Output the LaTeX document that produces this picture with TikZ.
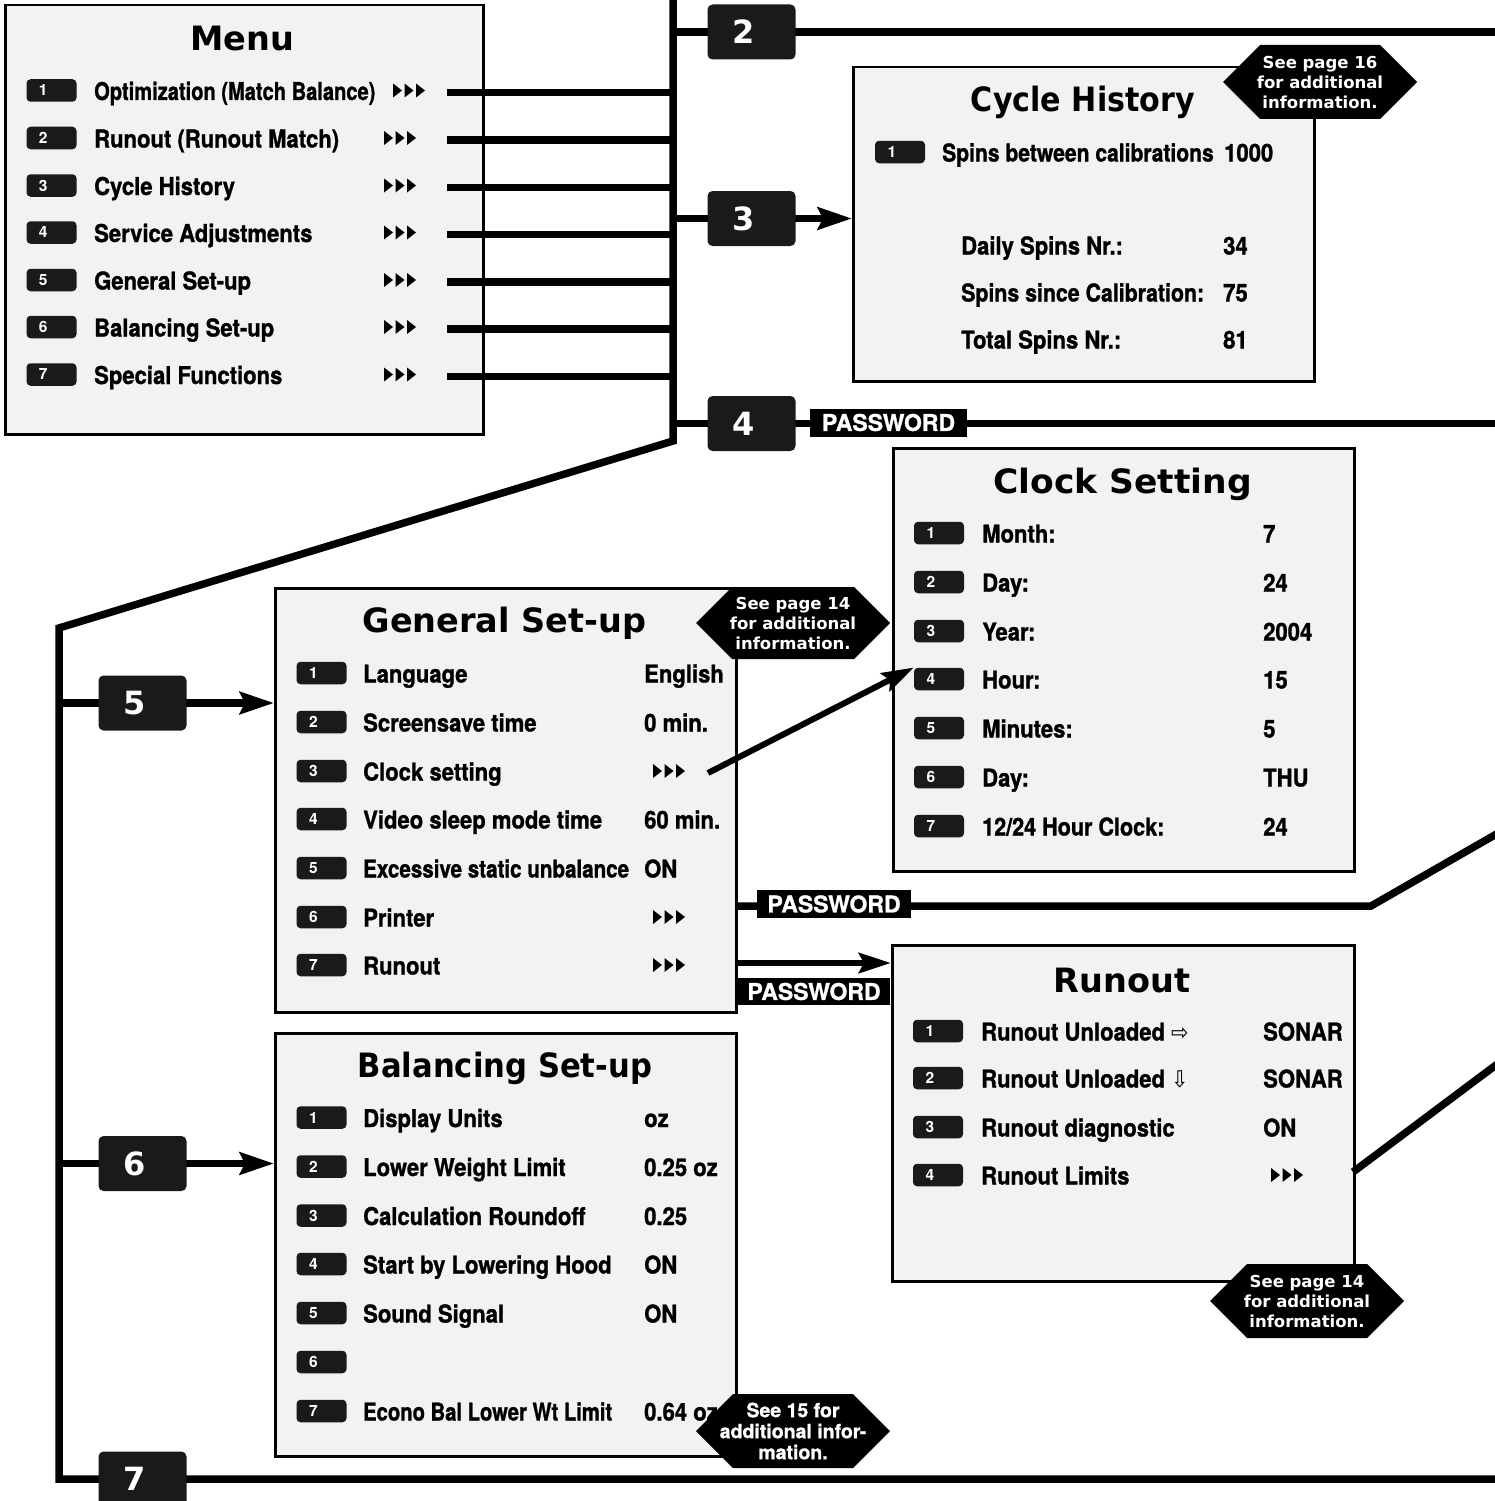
\documentclass[tikz,border=0pt]{standalone}
\usepackage{fontspec}
\usepackage{graphicx}
\usetikzlibrary{arrows.meta}
\setmainfont{TeX Gyre Heros}
\newfontfamily\dv{DejaVu Sans}
\newfontfamily\hv{TeX Gyre Heros}
\newfontfamily\hvB[BoldFeatures={FakeBold=1.2}]{TeX Gyre Heros}
\definecolor{boxgray}{HTML}{F2F2F2}
\definecolor{bk}{HTML}{1A1A1A}
\newcommand\C[2][0.9]{\scalebox{#1}[1]{#2}}
\tikzset{
 panel/.style={draw=black, line width=2.5, fill=boxgray, anchor=north west, inner sep=0},
 ttl/.style={font=\dv\bfseries\fontsize{33.5}{36}\selectfont, anchor=base, inner sep=0},
 itm/.style={font=\hvB\bfseries\fontsize{24.5}{26}\selectfont, anchor=base west, inner sep=0},
 sb/.style={fill=bk, rounded corners=4, minimum width=50, minimum height=22.5, inner sep=0, text=white, font=\hv\bfseries\fontsize{15.5}{15.5}\selectfont},
 bb/.style={fill=bk, rounded corners=5, minimum width=88, minimum height=55, inner sep=0, text=white, font=\dv\bfseries\fontsize{32}{32}\selectfont},
 conn/.style={line width=7.5},
 arr/.style={line width=7.5, -{Stealth[length=34, width=22, inset=5]}},
 pw/.style={fill=black, text=white, font=\hvB\bfseries\fontsize{23}{23}\selectfont, inner sep=0, minimum height=28},
 hext/.style={text=white, font=\dv\bfseries\fontsize{16.5}{20}\selectfont, align=center, inner sep=0},
 hextb/.style={text=white, font=\hvB\bfseries\fontsize{19.5}{21}\selectfont, align=center, inner sep=0},
 tri/.pic={\foreach \k in {0,1,2}{\fill ({\k*11.5},-7) -- ++(9,7) -- ++(-9,7) -- cycle;}},
}
\newcommand\itemrow[6]{%
 \node[sb] (#1b) at (#2,#4) {\makebox[50pt][l]{\hspace{12.5pt}#5}};
 \node[itm] (#1t) at (#3,#4+9.5) {#6};}
\newcommand\itemval[4]{\node[itm] (#1) at (#2,#3+9.5) {#4};}
\newcommand\hexa[4]{\fill[shift={(#2,#3)}] (-97,0) -- (-97+#4,-#4) -- (97-#4,-#4) -- (97,0) -- (97-#4,#4) -- (-97+#4,#4) -- cycle;}
\newcommand\arw[1]{{\dv\mdseries\fontsize{23}{23}\selectfont #1}}
\begin{document}
\begin{tikzpicture}[x=1pt,y=-1pt]
\useasboundingbox (0,0) rectangle (1494,1501);
% panels
\node[panel, minimum width=478, minimum height=429] (menu) at (4,4) {};
\node[panel, minimum width=461, minimum height=314] (cyc) at (852,66) {};
\node[panel, minimum width=461, minimum height=423] (clk) at (892,447) {};
\node[panel, minimum width=461, minimum height=424] (gen) at (274,587) {};
\node[panel, minimum width=462, minimum height=336] (run) at (891,944) {};
\node[panel, minimum width=461, minimum height=423] (bal) at (274,1032) {};
% trunk
\coordinate (t0) at (673,-5);
\coordinate (t1) at (673,441);
\coordinate (t2) at (59,628);
\coordinate (t3) at (59,1479);
\coordinate (t4) at (1500,1479);
\draw[conn, line join=miter] (t0) -- (t1) -- (t2) -- (t3) -- (t4);
% menu row connectors
\foreach \i/\yy in {1/92.5,2/140,3/187.5,4/234.5,5/282,6/329,7/376.5}{
 \coordinate (ms\i) at (447,\yy);
 \coordinate (me\i) at (673,\yy);
 \draw[conn] (ms\i) -- (me\i);
}
% big badge positions
\coordinate (b2) at (751.5,32);
\coordinate (b3) at (751.5,218.5);
\coordinate (b4) at (751.5,423.5);
\coordinate (b5) at (142.5,703);
\coordinate (b6) at (142.5,1163.5);
\coordinate (b7) at (142.5,1479);
\coordinate (e2) at (1500,32);
\coordinate (e4) at (1500,423.5);
\draw[conn] (b2 -| t0) -- (b2);
\draw[conn] (b2) -- (e2);
\draw[conn] (b3 -| t0) -- (b3);
\draw[arr] (b3) -- (b3 -| cyc.west);
\draw[conn] (b4 -| t0) -- (b4);
\draw[conn] (b4) -- (e4);
\draw[conn] (b5 -| t3) -- (b5);
\draw[arr] (b5) -- (b5 -| gen.west);
\draw[conn] (b6 -| t3) -- (b6);
\draw[arr] (b6) -- (b6 -| bal.west);
% badges over lines
\node[bb] (n2) at (b2) {\makebox[88pt][l]{\hspace{25pt}2}};
\node[bb] (n3) at (b3) {\makebox[88pt][l]{\hspace{25pt}3}};
\node[bb] (n4) at (b4) {\makebox[88pt][l]{\hspace{25pt}4}};
\node[bb] (n5) at (b5) {\makebox[88pt][l]{\hspace{25pt}5}};
\node[bb] (n6) at (b6) {\makebox[88pt][l]{\hspace{25pt}6}};
\node[bb] (n7) at (b7) {\makebox[88pt][l]{\hspace{25pt}7}};
\node[pw, minimum width=157] (pw1) at (888.5,422.5) {PASSWORD};
% general set-up password lines
\coordinate (p1s) at (735,906);
\coordinate (p1a) at (1371,906);
\coordinate (p1b) at (1500,832);
\draw[conn, line join=miter] (p1s) -- (p1a) -- (p1b);
\node[pw, minimum width=154] (pw2) at (834,904) {PASSWORD};
\coordinate (r0) at (735,963);
\draw[line width=6.5, -{Stealth[length=32, width=20, inset=5]}] (r0) -- (r0 -| run.west);
\node[pw, minimum width=152, minimum height=27] (pw3) at (814,991.5) {PASSWORD};
% runout limits line
\coordinate (rl0) at (1353,1172);
\coordinate (rl1) at (1500,1062);
\draw[conn] (rl0) -- (rl1);
% Menu
\node[ttl] (menut) at (242.5,51) {Menu};
\itemrow{m1}{51.5}{94}{90.5}{1}{\C[0.82]{Optimization (Match Balance)}}
\itemrow{m2}{51.5}{94}{138}{2}{\C{Runout (Runout Match)}}
\itemrow{m3}{51.5}{94}{185.5}{3}{\C{Cycle History}}
\itemrow{m4}{51.5}{94}{232.5}{4}{\C{Service Adjustments}}
\itemrow{m5}{51.5}{94}{280}{5}{\C{General Set-up}}
\itemrow{m6}{51.5}{94}{327}{6}{\C{Balancing Set-up}}
\itemrow{m7}{51.5}{94}{374.5}{7}{\C{Special Functions}}
\pic at (393,90.5) {tri};
\foreach \yy in {138,185.5,232.5,280,327,374.5}{\pic at (384,\yy) {tri};}
% Cycle History
\node[ttl] (cyct) at (1083,112) {\C[0.9]{Cycle History}};
\itemrow{c1}{900}{942}{152}{1}{\C[0.86]{Spins between calibrations}}
\itemval{c1v}{1224}{152}{\C{1000}}
\itemval{c2t}{961}{245}{\C{Daily Spins Nr.:}}
\itemval{c2v}{1223}{245}{\C{34}}
\itemval{c3t}{961}{292}{\C[0.87]{Spins since Calibration:}}
\itemval{c3v}{1223}{292}{\C{75}}
\itemval{c4t}{961}{339}{\C{Total Spins Nr.:}}
\itemval{c4v}{1223}{339}{\C{81}}
% Clock Setting
\node[ttl] (clkt) at (1122.5,493) {\C[1.03]{Clock Setting}};
\itemrow{k1}{939}{982}{533}{1}{\C{Month:}}
\itemrow{k2}{939}{982}{582}{2}{\C{Day:}}
\itemrow{k3}{939}{982}{631}{3}{\C{Year:}}
\itemrow{k4}{939}{982}{679}{4}{\C{Hour:}}
\itemrow{k5}{939}{982}{728}{5}{\C{Minutes:}}
\itemrow{k6}{939}{982}{777}{6}{\C{Day:}}
\itemrow{k7}{939}{982}{826}{7}{\C[0.88]{12/24 Hour Clock:}}
\itemval{k1v}{1263}{533}{\C{7}}
\itemval{k2v}{1263}{582}{\C{24}}
\itemval{k3v}{1263}{631}{\C{2004}}
\itemval{k4v}{1263}{679}{\C{15}}
\itemval{k5v}{1263}{728}{\C{5}}
\itemval{k6v}{1263}{777}{\C{THU}}
\itemval{k7v}{1263}{826}{\C{24}}
% General Set-up
\node[ttl] (gent) at (504.5,632) {General Set-up};
\itemrow{g1}{321.5}{363}{673}{1}{\C{Language}}
\itemrow{g2}{321.5}{363}{722}{2}{\C{Screensave time}}
\itemrow{g3}{321.5}{363}{771}{3}{\C{Clock setting}}
\itemrow{g4}{321.5}{363}{819}{4}{\C{Video sleep mode time}}
\itemrow{g5}{321.5}{363}{868}{5}{\C[0.84]{Excessive static unbalance}}
\itemrow{g6}{321.5}{363}{917}{6}{\C{Printer}}
\itemrow{g7}{321.5}{363}{965}{7}{\C{Runout}}
\itemval{g1v}{644}{673}{\C{English}}
\itemval{g2v}{644}{722}{\C{0 min.}}
\itemval{g4v}{644}{819}{\C{60 min.}}
\itemval{g5v}{644}{868}{\C{ON}}
\pic at (653,771) {tri};
\pic at (653,917) {tri};
\pic at (653,965) {tri};
\coordinate (ca) at (708,773);
\draw[line width=6, -{Stealth[length=32, width=20, inset=5]}] (ca) -- (k4b.north west);
% Runout
\node[ttl] (runt) at (1122,992) {Runout};
\itemrow{r1}{938}{981}{1031}{1}{\C{Runout Unloaded \arw{⇨}}}
\itemrow{r2}{938}{981}{1078}{2}{\C{Runout Unloaded \arw{⇩}}}
\itemrow{r3}{938}{981}{1127}{3}{\C{Runout diagnostic}}
\itemrow{r4}{938}{981}{1175}{4}{\C{Runout Limits}}
\itemval{r1v}{1263}{1031}{\C{SONAR}}
\itemval{r2v}{1263}{1078}{\C{SONAR}}
\itemval{r3v}{1263}{1127}{\C{ON}}
\pic at (1271,1175) {tri};
% Balancing Set-up
\node[ttl] (balt) at (505,1077) {\C[0.915]{Balancing Set-up}};
\itemrow{a1}{321.5}{363}{1117.5}{1}{\C{Display Units}}
\itemrow{a2}{321.5}{363}{1166.5}{2}{\C{Lower Weight Limit}}
\itemrow{a3}{321.5}{363}{1215.5}{3}{\C{Calculation Roundoff}}
\itemrow{a4}{321.5}{363}{1264}{4}{\C{Start by Lowering Hood}}
\itemrow{a5}{321.5}{363}{1313}{5}{\C{Sound Signal}}
\node[sb] (a6b) at (321.5,1362) {\makebox[50pt][l]{\hspace{12.5pt}6}};
\itemrow{a7}{321.5}{363}{1411}{7}{\C[0.825]{Econo Bal Lower Wt Limit}}
\itemval{a1v}{644}{1117.5}{\C{oz}}
\itemval{a2v}{644}{1166.5}{\C{0.25 oz}}
\itemval{a3v}{644}{1215.5}{\C{0.25}}
\itemval{a4v}{644}{1264}{\C{ON}}
\itemval{a5v}{644}{1313}{\C{ON}}
\itemval{a7v}{644}{1411}{\C{0.64 oz}}
% hexagon callouts
\hexa{h1}{1320}{82}{37}
\node[hext] (h1t) at (1320,82) {See page 16\\for additional\\information.};
\hexa{h2}{793}{623}{36}
\node[hext] (h2t) at (793,623) {See page 14\\for additional\\information.};
\hexa{h3}{1307}{1301}{37}
\node[hext] (h3t) at (1307,1301) {See page 14\\for additional\\information.};
\hexa{h4}{793}{1431}{37}
\node[hextb] (h4t) at (793,1431) {See 15 for\\additional infor-\\mation.};
\end{tikzpicture}
\end{document}
